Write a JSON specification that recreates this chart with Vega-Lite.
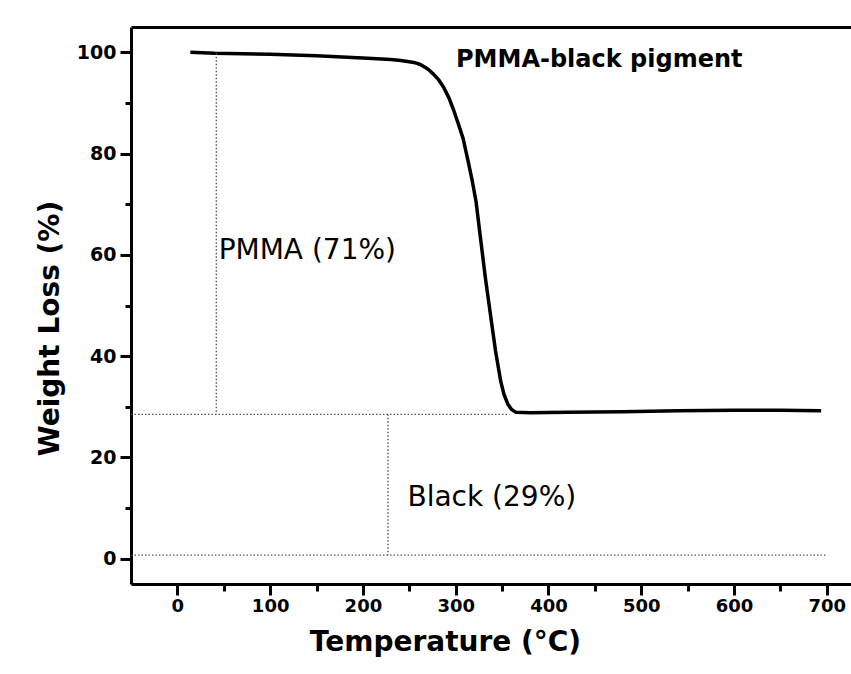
{
  "$schema": "https://vega.github.io/schema/vega-lite/v6.json",
  "width": 720,
  "height": 557,
  "autosize": {"type": "none"},
  "padding": {"left": 131, "top": 27, "right": 0, "bottom": 90},
  "background": "white",
  "config": {"view": {"stroke": null}, "font": "DejaVu Sans"},
  "datasets": {
    "curve": [
      {"T": 14, "W": 100.0}, {"T": 40, "W": 99.8}, {"T": 70, "W": 99.7}, {"T": 100, "W": 99.6},
      {"T": 150, "W": 99.3}, {"T": 200, "W": 98.9}, {"T": 230, "W": 98.6}, {"T": 241, "W": 98.4},
      {"T": 255, "W": 98.0}, {"T": 262, "W": 97.6}, {"T": 270, "W": 96.7}, {"T": 276, "W": 95.7},
      {"T": 282, "W": 94.5}, {"T": 287, "W": 93.1}, {"T": 293, "W": 90.9}, {"T": 298, "W": 88.5},
      {"T": 303, "W": 85.8}, {"T": 308, "W": 83.0}, {"T": 314, "W": 78.0}, {"T": 318, "W": 74.5},
      {"T": 322, "W": 70.5}, {"T": 327, "W": 63.0}, {"T": 332, "W": 55.5}, {"T": 338, "W": 47.6},
      {"T": 343, "W": 41.0}, {"T": 348.5, "W": 35.1}, {"T": 352, "W": 32.5}, {"T": 356, "W": 30.6},
      {"T": 360, "W": 29.5}, {"T": 365, "W": 28.9}, {"T": 380, "W": 28.8}, {"T": 420, "W": 28.9},
      {"T": 480, "W": 29.0}, {"T": 540, "W": 29.2}, {"T": 600, "W": 29.3}, {"T": 650, "W": 29.3},
      {"T": 694, "W": 29.2}
    ],
    "guides": [
      {"xa": 42, "xb": 42, "ya": 99.8, "yb": 28.5},
      {"xa": -50, "xb": 358, "ya": 28.5, "yb": 28.5},
      {"xa": 227, "xb": 227, "ya": 28.5, "yb": 0.7},
      {"xa": -50, "xb": 700, "ya": 0.7, "yb": 0.7}
    ],
    "notes": [
      {"label": "PMMA-black pigment", "T": 300.4, "W": 98.4},
      {"label": "PMMA (71%)", "T": 44.5, "W": 60.8},
      {"label": "Black (29%)", "T": 248, "W": 12}
    ]
  },
  "resolve": {"axis": {"x": "independent"}},
  "layer": [
    {
      "data": {"name": "curve"},
      "mark": {"type": "line", "color": "black", "strokeWidth": 3.5, "strokeJoin": "round"},
      "encoding": {
        "x": {
          "field": "T", "type": "quantitative",
          "scale": {"domain": [-50, 726.2], "nice": false, "zero": false},
          "axis": {
            "orient": "bottom",
            "values": [0, 50, 100, 150, 200, 250, 300, 350, 400, 450, 500, 550, 600, 650, 700],
            "labelExpr": "datum.value % 100 === 0 ? datum.label : ''",
            "format": "d",
            "tickSize": {"condition": {"test": "datum.value % 100 !== 0", "value": 7}, "value": 11},
            "tickWidth": 3, "tickColor": "black",
            "domainWidth": 3, "domainColor": "black",
            "labelFont": "DejaVu Sans", "labelFontWeight": "bold", "labelFontSize": 18, "labelColor": "black",
            "labelPadding": 2, "labelFlush": false, "labelOverlap": false,
            "grid": false,
            "title": "Temperature (°C)",
            "titleFont": "DejaVu Sans", "titleFontSize": 28, "titleFontWeight": "bold", "titleColor": "black",
            "titleX": 314, "titleY": 66, "titleBaseline": "alphabetic", "titleAlign": "center"
          }
        },
        "y": {
          "field": "W", "type": "quantitative",
          "scale": {"domain": [-5, 105], "nice": false, "zero": false},
          "axis": {
            "values": [0, 10, 20, 30, 40, 50, 60, 70, 80, 90, 100],
            "labelExpr": "datum.value % 20 === 0 ? datum.label : ''",
            "format": "d",
            "tickSize": {"condition": {"test": "datum.value % 20 !== 0", "value": 6}, "value": 11},
            "tickWidth": 3, "tickColor": "black",
            "domainWidth": 3, "domainColor": "black",
            "labelFont": "DejaVu Sans", "labelFontWeight": "bold", "labelFontSize": 19, "labelColor": "black",
            "labelPadding": 4, "labelFlush": false, "labelOverlap": false,
            "grid": false,
            "title": "Weight Loss (%)",
            "titleFont": "DejaVu Sans", "titleFontSize": 28, "titleFontWeight": "bold", "titleColor": "black",
            "titleX": -73, "titleY": 301, "titleBaseline": "alphabetic", "titleAlign": "center"
          }
        }
      }
    },
    {
      "data": {"name": "guides"},
      "mark": {"type": "rule", "color": "#555555", "strokeWidth": 1.4, "strokeDash": [1.5, 2]},
      "encoding": {
        "x": {
          "field": "xa", "type": "quantitative",
          "axis": {
            "orient": "top", "labels": false, "ticks": false, "title": null, "grid": false,
            "domainWidth": 3, "domainColor": "black"
          }
        },
        "x2": {"field": "xb"},
        "y": {"field": "ya", "type": "quantitative"},
        "y2": {"field": "yb"}
      }
    },
    {
      "data": {"name": "notes"},
      "transform": [{"filter": "datum.label === 'PMMA-black pigment'"}],
      "mark": {"type": "text", "align": "left", "baseline": "middle", "font": "DejaVu Sans", "fontWeight": "bold", "fontSize": 24, "color": "black"},
      "encoding": {
        "x": {"field": "T", "type": "quantitative", "axis": null},
        "y": {"field": "W", "type": "quantitative"},
        "text": {"field": "label"}
      }
    },
    {
      "data": {"name": "notes"},
      "transform": [{"filter": "datum.label !== 'PMMA-black pigment'"}],
      "mark": {"type": "text", "align": "left", "baseline": "middle", "font": "DejaVu Sans", "fontSize": 28, "color": "black"},
      "encoding": {
        "x": {"field": "T", "type": "quantitative", "axis": null},
        "y": {"field": "W", "type": "quantitative"},
        "text": {"field": "label"}
      }
    }
  ]
}
